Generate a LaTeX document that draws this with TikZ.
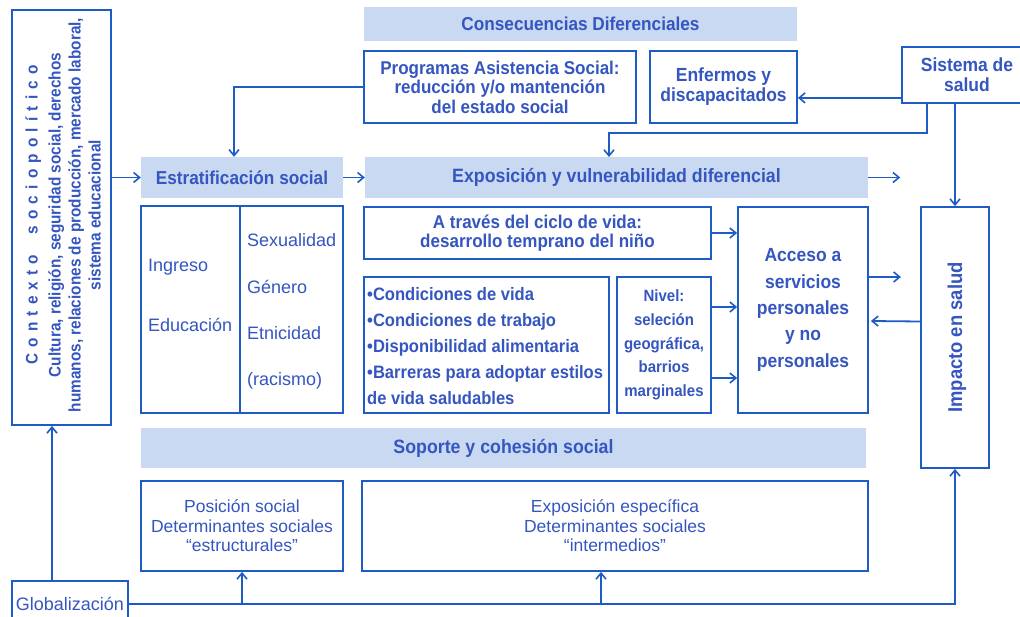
\documentclass[tikz,border=0pt]{standalone}
\usepackage{fontspec}
\setmainfont[FakeStretch=0.92]{Liberation Sans}
\newfontfamily\regf{Liberation Sans}
\usetikzlibrary{arrows.meta,calc}
\definecolor{ln}{HTML}{1F5BC6}
\definecolor{tx}{HTML}{3556C0}
\definecolor{fl}{HTML}{C9D9F1}
\begin{document}
\begin{tikzpicture}[x=1pt,y=-1pt,
  box/.style={draw=ln,line width=1.8pt,fill=white,inner sep=0pt,text=tx,align=center,
    font=\bfseries\fontsize{18.5}{19.5}\selectfont},
  band/.style={fill=fl,inner sep=0pt,text=tx,align=center,font=\bfseries\fontsize{18.7}{20}\selectfont},
  txt/.style={text=tx,inner sep=0pt,align=center},
  arr/.style={draw=ln,line width=1.8pt,-{Straight Barb[length=6pt,width=10pt,line width=1.6pt]}},
  con/.style={draw=ln,line width=1.8pt}]
\useasboundingbox (0,0) rectangle (1020,617);
% boxes
\node[box,minimum width=99,minimum height=415] (ctx) at (61.5,217.5) {};
\node[txt,rotate=90,font=\bfseries\fontsize{16.7}{20}\selectfont] (ctxt) at (63,215)
  {{\spaceskip=6.2pt C o n t e x t o \hspace{8pt} s o c i o p o l í t i c o}\\[3pt]
   Cultura, religión, seguridad social, derechos\\
   humanos, relaciones de producción, mercado laboral,\\
   sistema educacional};
\node[box,minimum width=116,minimum height=46,font=\regf\fontsize{18}{20}\selectfont] (glob) at (70,604) {\raisebox{1pt}{Globalización}};
\node[band,minimum width=433,minimum height=34] (cons) at (580.5,24) {Consecuencias Diferenciales};
\node[box,minimum width=272,minimum height=72] (prog) at (500,87) {Programas Asistencia Social:\\reducción y/o mantención\\del estado social};
\node[box,minimum width=147,minimum height=72,font=\bfseries\fontsize{19}{20}\selectfont] (enf) at (723.5,87) {Enfermos y\\discapacitados};
\node[box,minimum width=130,minimum height=56,font=\bfseries\fontsize{19}{20}\selectfont] (sis) at (967,75) {Sistema de\\salud};
\node[band,minimum width=202,minimum height=41] (estr) at (242,177.5) {Estratificación social};
\node[band,minimum width=503,minimum height=41,font=\bfseries\fontsize{19.3}{20}\selectfont] (expo) at (616.5,177.5) {Exposición y vulnerabilidad diferencial};
\node[box,minimum width=202,minimum height=207] (ing) at (242,309.5) {};
\draw[con] (240,206) -- (240,413);
\node[txt,anchor=west,font=\regf\fontsize{18}{20}\selectfont] (ingt) at (148,267) {Ingreso};
\node[txt,anchor=west,font=\regf\fontsize{18}{20}\selectfont] (edut) at (148,325) {Educación};
\node[txt,anchor=west,align=left,font=\regf\fontsize{18}{46.3}\selectfont] (sext) at (247,311.5) {Sexualidad\\Género\\Etnicidad\\(racismo)};
\node[box,minimum width=347,minimum height=52] (atr) at (537.5,233) {A través del ciclo de vida:\\desarrollo temprano del niño};
\node[box,minimum width=245,minimum height=136] (cond) at (486.5,345) {};
\node[txt,anchor=west,align=left,font=\bfseries\fontsize{18}{26}\selectfont] (condt) at (367,346)
  {•Condiciones de vida\\•Condiciones de trabajo\\•Disponibilidad alimentaria\\•Barreras para adoptar estilos\\de vida saludables};
\node[box,minimum width=94,minimum height=136,font=\bfseries\fontsize{16.3}{23.8}\selectfont] (niv) at (664,345) {Nivel:\\seleción\\geográfica,\\barrios\\marginales};
\node[box,minimum width=130,minimum height=206,font=\bfseries\fontsize{19}{26.3}\selectfont] (acc) at (803,310) {Acceso a\\servicios\\personales\\y no\\personales};
\node[box,minimum width=68,minimum height=261] (imp) at (955,337.5) {};
\node[txt,rotate=90,font=\bfseries\fontsize{20}{20}\selectfont] (impt) at (957,337.5) {Impacto en salud};
\node[band,minimum width=725,minimum height=40,font=\bfseries\fontsize{19.3}{20}\selectfont] (sop) at (503.5,448) {Soporte y cohesión social};
\node[box,minimum width=202,minimum height=90,font=\regf\fontsize{17.5}{19.5}\selectfont] (pos) at (242,526) {Posición social\\Determinantes sociales\\“estructurales”};
\node[box,minimum width=506,minimum height=90,font=\regf\fontsize{17.5}{19.5}\selectfont] (esp) at (615,526) {Exposición específica\\Determinantes sociales\\“intermedios”};
% connectors
\draw[arr] (ctx.east |- estr.west) -- (estr.west);
\draw[arr] (estr.east) -- (expo.west);
\draw[arr] (expo.east) -- ++(32,0);
\draw[arr] (prog.west) -| ($(estr.north)+(-8,0)$);
\draw[arr] ($(sis.south west)+(0,-6)$) -- ($(enf.south east)+(0,-26)$);
\draw[arr] ($(sis.south west)+(26,0)$) |- (609,133) -- (609,157);
\draw[arr] (sis.south -| imp.north) -- (imp.north);
\draw[arr] (atr.east) -- (acc.west |- atr.east);
\draw[arr] ($(niv.east)+(0,-38)$) -- ($(acc.west |- niv.east)+(0,-38)$);
\draw[arr] ($(niv.east)+(0,33)$) -- ($(acc.west |- niv.east)+(0,33)$);
\draw[arr] ($(acc.east)+(0,-33)$) -- ++(32,0);
\draw[arr] ($(imp.west)+(0,-16)$) -- ($(acc.east)+(2,11)$);
\draw[arr] ($(glob.north)+(-18,0)$) -- (ctx.south -| {$(glob.north)+(-18,0)$});
\draw[arr] (glob.east) -| (imp.south);
\draw[arr] (glob.east -| pos.south) -- (pos.south);
\draw[arr] (glob.east -| {$(esp.south)+(-14,0)$}) -- ($(esp.south)+(-14,0)$);
\end{tikzpicture}
\end{document}
